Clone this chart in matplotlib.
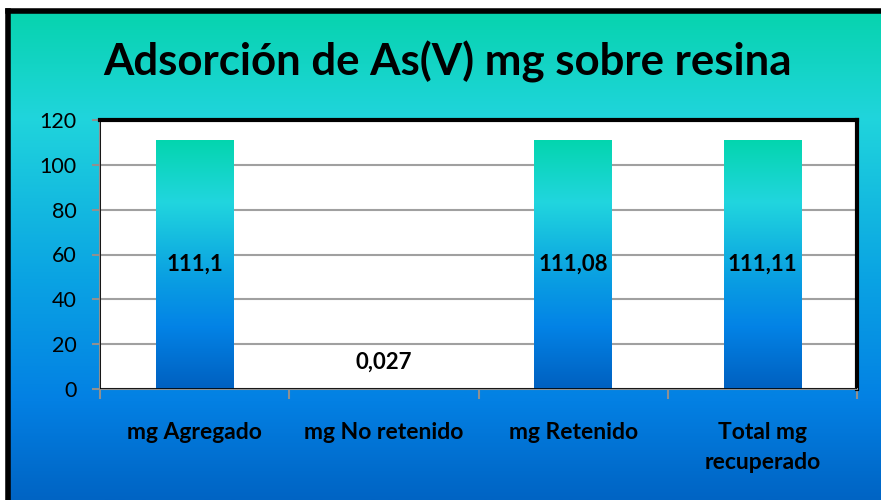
import numpy as np
import matplotlib
matplotlib.use("Agg")
import matplotlib.pyplot as plt
from matplotlib.colors import LinearSegmentedColormap
from matplotlib.patches import Rectangle
from matplotlib.lines import Line2D

title = "Adsorción de As(V) mg sobre resina"
categories = ["mg Agregado", "mg No retenido", "mg Retenido", "Total mg\nrecuperado"]
values = [111.1, 0.027, 111.08, 111.11]
value_labels = ["111,1", "0,027", "111,08", "111,11"]
y_ticks = [0, 20, 40, 60, 80, 100, 120]

FONT = ["Lato", "DejaVu Sans"]
plt.rcParams["font.family"] = FONT

W, H = 881, 500
fig = plt.figure(figsize=(W / 100, H / 100), dpi=100)
fig.patch.set_facecolor("white")

# figure background gradient
bg_cmap = LinearSegmentedColormap.from_list(
    "bg", [(0.0, "#06d3ad"), (0.22, "#20d5dc"), (0.55, "#0aa3e3"),
           (0.8, "#0380e3"), (1.0, "#0064c4")])
bgax = fig.add_axes([6 / W, 0, 1 - 6 / W, 1 - 9 / H])
bgax.set_axis_off()
grad = np.linspace(0, 1, 256).reshape(-1, 1)
bgax.imshow(grad, aspect="auto", cmap=bg_cmap, extent=[0, 1, 0, 1], origin="upper")
bgax.set_xlim(0, 1)
bgax.set_ylim(0, 1)
fig.add_artist(Line2D([8 / W, 8 / W], [0, 1 - 11 / H], color="black", linewidth=4,
                      transform=fig.transFigure, solid_capstyle="projecting"))
fig.add_artist(Line2D([8 / W, 1], [1 - 11 / H, 1 - 11 / H], color="black", linewidth=4,
                      transform=fig.transFigure, solid_capstyle="projecting"))

ax = fig.add_axes([100 / W, 1 - 389 / H, (857 - 100) / W, (389 - 120) / H])
ax.set_facecolor("white")
x = np.arange(len(categories))
bars = ax.bar(x, values, width=0.41, color="none", edgecolor="none", zorder=3)

bar_cmap = LinearSegmentedColormap.from_list(
    "bar", [(0.0, "#03d5ae"), (0.25, "#21d6de"), (0.55, "#0aa0e2"),
            (0.75, "#0383e6"), (1.0, "#0060c0")])
for b in bars:
    x0, y0 = b.get_x(), b.get_y()
    w, h = b.get_width(), b.get_height()
    im = ax.imshow(grad, aspect="auto", cmap=bar_cmap, origin="upper",
                   extent=[x0, x0 + w, y0, y0 + max(h, 1e-6)], zorder=3)
    im.set_clip_path(b)

for xi, v, lab in zip(x, values, value_labels):
    ypos = v / 2 if v / 2 > 12 else 12
    ax.text(xi, ypos, lab, ha="center", va="center", fontsize=16,
            fontweight="bold", color="black", zorder=5)

ax.set_xlim(-0.5, len(categories) - 0.5)
ax.set_ylim(0, 120)
ax.set_yticks(y_ticks)
ax.set_yticklabels([str(t) for t in y_ticks], fontsize=15.5, color="black")
ax.yaxis.grid(True, color="#a0a0a0", linewidth=1.5, zorder=1)
ax.set_axisbelow(True)

ax.set_xticks(x)
ax.set_xticklabels(categories, fontsize=16.5, fontweight="bold", linespacing=1.5)
ax.set_xticks(np.arange(-0.5, len(categories)), minor=True)
ax.tick_params(axis="x", which="major", length=0, pad=24)
ax.tick_params(axis="x", which="minor", length=7, width=1.5, color="#909090")
ax.tick_params(axis="y", length=6, width=1.5, color="#909090", pad=11)

for s in ["top", "right"]:
    ax.spines[s].set_color("black")
    ax.spines[s].set_linewidth(3)
for s in ["left", "bottom"]:
    ax.spines[s].set_color("#909090")
    ax.spines[s].set_linewidth(1.5)
ax.add_patch(Rectangle((0, 0), 1, 1, fill=False, edgecolor="black", linewidth=1.2,
                       transform=ax.transAxes, zorder=6))

fig.text(447 / W, 1 - 62 / H, title, ha="center", va="center",
         fontsize=31.5, fontweight="bold", color="black")

fig.savefig("out.png", dpi=100, facecolor=fig.get_facecolor())
